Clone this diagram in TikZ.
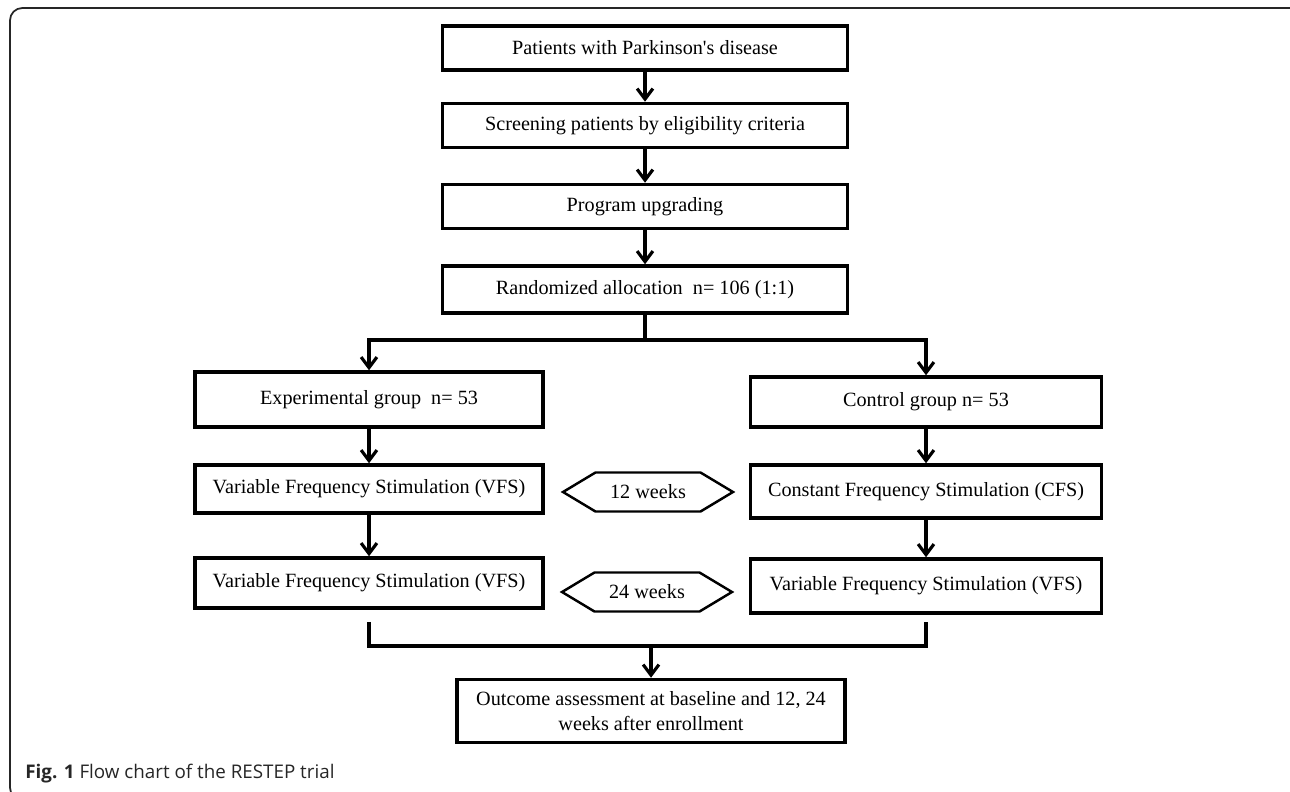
\documentclass[tikz,border=0pt]{standalone}
\usepackage{fontspec}
\setmainfont{Liberation Serif}
\newfontfamily\capfont{Open Sans}
\usetikzlibrary{arrows.meta,shapes.symbols}
\begin{document}
\begin{tikzpicture}[x=0.02cm,y=-0.02cm,
  box/.style={draw,line width=2pt,minimum height=0.88cm,inner sep=0pt,align=center,font=\fontsize{11.5}{14.5}\selectfont},
  hexa/.style={draw,line width=1.4pt,signal,signal to=west and east,signal pointer angle=62,minimum width=3.4cm,minimum height=0.78cm,inner sep=0pt,font=\fontsize{11.5}{14.5}\selectfont},
  arr/.style={line width=2pt,-{Straight Barb[length=6pt,width=9pt,line width=1.8pt]}},
  link/.style={line width=2pt}]
\useasboundingbox (0,0) rectangle (1290,791);
\draw[line width=1pt,black!85,rounded corners=7pt] (30,800) -- (10,800) -- (10,8) -- (1300,8);
\node[box,minimum width=8.1cm] (patients) at (645,48) {Patients with Parkinson\textquotesingle s disease};
\node[box,minimum width=8.1cm] (screen) at (645,125.5) {Screening patients by eligibility criteria};
\node[box,minimum width=8.1cm] (upgrade) at (645,206.5) {Program upgrading};
\node[box,minimum width=8.1cm,minimum height=0.94cm] (random) at (645,289.5) {Randomized allocation\ \ n= 106 (1:1)};
\node[box,minimum width=6.96cm,minimum height=1.1cm] (expgrp) at (369,399.5) {Experimental group\ \ n= 53};
\node[box,minimum width=7.02cm,minimum height=1cm] (ctlgrp) at (926,402) {Control group n= 53};
\node[box,minimum width=6.96cm,minimum height=0.96cm] (vfsexpA) at (369,489) {Variable Frequency Stimulation (VFS)};
\node[box,minimum width=7.02cm,minimum height=1.06cm] (cfsctl) at (926,491.5) {Constant Frequency Stimulation (CFS)};
\node[box,minimum width=6.96cm,minimum height=1cm] (vfsexpB) at (369,583) {Variable Frequency Stimulation (VFS)};
\node[box,minimum width=7.02cm,minimum height=1.08cm] (vfsctl) at (926,586) {Variable Frequency Stimulation (VFS)};
\node[hexa] (wkA) at (648,492) {12 weeks};
\node[hexa] (wkB) at (647,592) {24 weeks};
\node[box,minimum width=7.76cm,minimum height=1.26cm] (outcome) at (651,711) {Outcome assessment at baseline and 12, 24\\weeks after enrollment};
\coordinate (split) at (645,340);
\coordinate (merge) at (651,646);
\draw[arr] (patients) -- (screen);
\draw[arr] (screen) -- (upgrade);
\draw[arr] (upgrade) -- (random);
\draw[link] (random) -- (split);
\draw[arr] (split) -| (expgrp);
\draw[arr] (split) -| (ctlgrp);
\draw[arr] (expgrp) -- (vfsexpA);
\draw[arr] (vfsexpA) -- (vfsexpB);
\draw[arr] (ctlgrp) -- (cfsctl);
\draw[arr] (cfsctl) -- (vfsctl);
\draw[link] ([yshift=-0.24cm]vfsexpB.south) |- (merge) -| ([yshift=-0.14cm]vfsctl.south);
\draw[arr] (merge) -- (outcome);
\node[anchor=base west,inner sep=0pt,text=black!85,font=\capfont\fontsize{10.7}{12}\selectfont] (caption) at (25,778) {\textbf{Fig. 1} Flow chart of the RESTEP trial};
\end{tikzpicture}
\end{document}
